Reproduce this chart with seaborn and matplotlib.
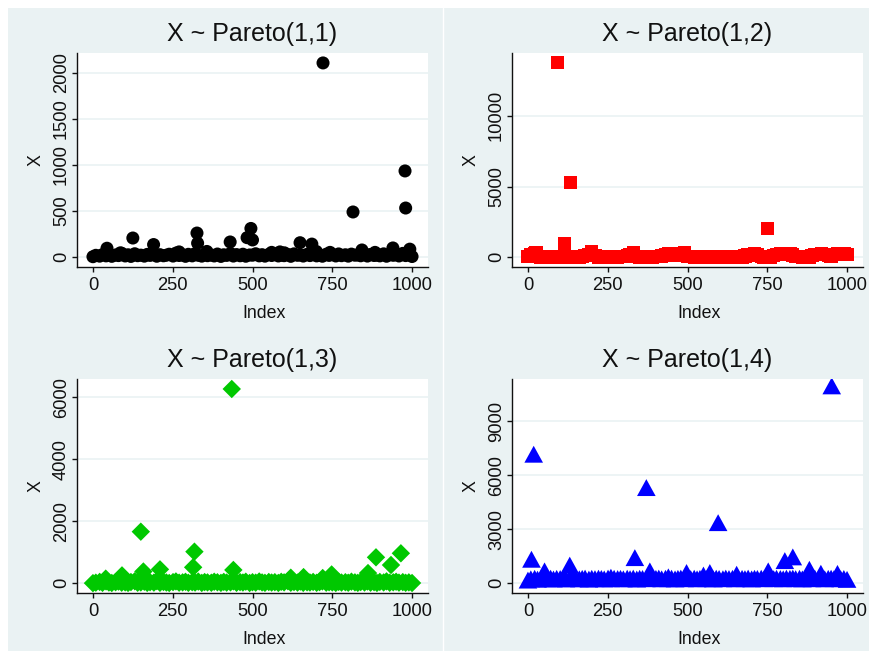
import pandas as pd
import seaborn as sns
import matplotlib.pyplot as plt
from matplotlib.patches import Rectangle
from matplotlib.lines import Line2D

# index positions of the dense band of small draws (shared by all panels)
band_index = [
    0, 9, 21, 30, 41, 50, 59, 71, 80, 90,
    101, 110, 119, 131, 140, 150, 161, 170, 179, 191,
    200, 210, 221, 230, 239, 251, 260, 270, 281, 290,
    299, 311, 320, 330, 341, 350, 359, 371, 380, 390,
    401, 410, 419, 431, 440, 450, 461, 470, 479, 491,
    500, 510, 521, 530, 539, 551, 560, 570, 581, 590,
    599, 611, 620, 630, 641, 650, 659, 671, 680, 690,
    701, 710, 719, 731, 740, 750, 761, 770, 779, 791,
    800, 810, 821, 830, 839, 851, 860, 870, 881, 890,
    899, 911, 920, 930, 941, 950, 959, 971, 980, 990,
    1000]

# Pareto(1,1)
p1_band = [
    3, 18, 9, 26, 12, 31, 7, 22, 15, 40,
    11, 24, 6, 35, 14, 20, 9, 28, 17, 33,
    8, 25, 13, 19, 30, 10, 42, 16, 23, 7,
    29, 12, 36, 18, 9, 27, 14, 21, 11, 32,
    6, 24, 17, 38, 10, 26, 13, 30, 8, 22,
    19, 35, 12, 25, 9, 28, 16, 31, 11, 20,
    14, 27, 7, 34, 18, 23, 10, 29, 15, 37,
    12, 21, 8, 30, 17, 26, 11, 33, 14, 24,
    9, 31, 19, 22, 13, 36, 10, 27, 16, 20,
    12, 34, 8, 25, 18, 30, 11, 39, 15, 28,
    5]
p1_out_index = [44, 86, 125, 190, 270, 326, 328, 357, 430, 483, 495, 500,
                560, 586, 600, 649, 686, 700, 721, 743, 815, 843, 884,
                940, 978, 980, 993]
p1_out_value = [95, 45, 206, 135, 55, 260, 150, 60, 163, 210, 310, 185,
                50, 55, 45, 155, 140, 60, 2109, 50, 489, 76, 50,
                98, 935, 532, 85]

# Pareto(1,2)
p2_band = [
    40, 180, 230, 60, 25, 50, 15, 35, 70, 20,
    45, 30, 60, 20, 40, 55, 25, 35, 120, 210,
    260, 150, 30, 50, 20, 40, 15, 60, 25, 45,
    35, 140, 210, 250, 80, 30, 50, 20, 45, 25,
    60, 35, 90, 180, 230, 160, 110, 210, 240, 190,
    60, 40, 25, 50, 30, 45, 20, 35, 55, 30,
    25, 40, 20, 50, 35, 15, 45, 30, 90, 170,
    200, 230, 160, 40, 25, 50, 30, 120, 200, 230,
    210, 190, 240, 170, 60, 40, 25, 50, 30, 120,
    180, 210, 240, 190, 140, 60, 220, 250, 200, 230,
    180]
p2_out_index = [25, 92, 115, 134, 200, 330, 450, 490, 751]
p2_out_value = [350, 13750, 990, 5270, 380, 300, 290, 300, 2020]

# Pareto(1,3)
p3_band = [
    5, 20, 45, 15, 60, 25, 10, 35, 55, 20,
    30, 12, 40, 65, 18, 28, 50, 14, 35, 22,
    70, 16, 42, 25, 10, 38, 60, 20, 30, 48,
    15, 36, 24, 55, 12, 40, 28, 18, 50, 33,
    14, 45, 22, 30, 62, 16, 38, 25, 52, 10,
    35, 20, 58, 28, 15, 42, 24, 36, 12, 48,
    30, 66, 18, 40, 22, 55, 14, 32, 26, 44,
    16, 38, 60, 20, 34, 28, 12, 46, 24, 35,
    18, 52, 30, 14, 40, 26, 58, 20, 36, 12,
    44, 28, 62, 18, 32, 50, 22, 38, 16, 30,
    10]
p3_out_index = [40, 91, 150, 158, 210, 314, 318, 435, 440, 620, 660, 720,
                748, 862, 887, 934, 965]
p3_out_value = [150, 255, 1665, 380, 450, 516, 1020, 6268, 430, 180, 200, 170,
                285, 330, 838, 590, 968]

# Pareto(1,4)
p4_band = [
    20, 90, 120, 70, 110, 130, 95, 125, 80, 115,
    105, 130, 85, 120, 100, 125, 90, 115, 130, 75,
    120, 100, 125, 110, 85, 130, 95, 120, 105, 115,
    90, 125, 100, 130, 80, 120, 110, 95, 125, 105,
    115, 130, 90, 120, 100, 125, 85, 115, 130, 95,
    120, 105, 125, 90, 115, 130, 100, 120, 85, 125,
    110, 95, 130, 105, 120, 90, 125, 115, 100, 130,
    85, 120, 110, 125, 95, 115, 130, 100, 120, 105,
    90, 125, 115, 130, 100, 120, 85, 125, 110, 95,
    130, 105, 120, 90, 115, 125, 100, 130, 95, 110,
    60]
p4_out_index = [11, 18, 52, 131, 260, 335, 371, 382, 440, 497, 550, 570,
                596, 654, 753, 805, 830, 882, 918, 952, 970]
p4_out_value = [1175, 7000, 530, 850, 180, 1265, 5150, 530, 200, 440, 300, 440,
                3205, 345, 530, 1100, 1305, 620, 400, 10790, 390]

x_ticks = [0, 250, 500, 750, 1000]

sns.set_theme(style='white')
plt.rcParams['font.family'] = ['Liberation Sans', 'DejaVu Sans']

BG = '#EAF2F3'
INK = '#111111'
W, H = 869, 651

fig = plt.figure(figsize=(W / 100, H / 100), dpi=100, facecolor='white')
fig.add_artist(Rectangle((8 / W, 0), 1 - 8 / W, 1 - 8 / H,
                         transform=fig.transFigure, facecolor=BG,
                         edgecolor='none', zorder=-10))
fig.add_artist(Line2D([442.5 / W, 442.5 / W], [0, 1 - 8 / H],
                      transform=fig.transFigure, color='white', lw=1.0, zorder=-9))

# triangle centred on its centroid, like Stata's
tri = [(0, 10.5), (-8.65, -5.2), (8.65, -5.2), (0, 10.5)]

panels = [
    ('X ~ Pareto(1,1)', p1_band, p1_out_index, p1_out_value, 'black', 'o', 88,
     (-109, 2217), [0, 500, 1000, 1500, 2000], (77, 53)),
    ('X ~ Pareto(1,2)', p2_band, p2_out_index, p2_out_value, '#FF0000', 's', 92,
     (-686, 14438), [0, 5000, 10000], (512, 53)),
    ('X ~ Pareto(1,3)', p3_band, p3_out_index, p3_out_value, '#00C800', 'D', 88,
     (-313, 6590), [0, 2000, 4000, 6000], (77, 379)),
    ('X ~ Pareto(1,4)', p4_band, p4_out_index, p4_out_value, '#0000FF', tri, 265,
     (-538, 11330), [0, 3000, 6000, 9000], (512, 379)),
]

aw, ah = 351, 214
for title, band, oi, ov, color, marker, size, ylim, yticks, (left, top) in panels:
    ax = fig.add_axes([left / W, (H - top - ah) / H, aw / W, ah / H])
    ax.set_facecolor('white')
    df = pd.DataFrame({'Index': band_index + oi, 'X': band + ov})
    sns.scatterplot(data=df, x='Index', y='X', ax=ax, color=color, marker=marker,
                    s=size, linewidth=0, edgecolor='none', zorder=3)
    ax.set_xlim(-50, 1050)
    ax.set_ylim(*ylim)
    ax.set_xticks(x_ticks)
    ax.set_yticks(yticks)
    ax.yaxis.grid(True, color=BG, lw=1.2)
    ax.xaxis.grid(False)
    ax.set_axisbelow(True)
    for side in ['top', 'right']:
        ax.spines[side].set_visible(False)
    for side in ['left', 'bottom']:
        ax.spines[side].set_color(INK)
        ax.spines[side].set_linewidth(1.0)
    ax.tick_params(axis='both', direction='out', length=3.6, width=1.0, color=INK,
                   labelsize=13.2, labelcolor=INK, left=True, bottom=True)
    ax.tick_params(axis='y', labelrotation=90, pad=1.5)
    ax.tick_params(axis='x', pad=3.5)
    for lab in ax.get_yticklabels():
        lab.set_va('center')
    ax.set_xlabel('Index', fontsize=12.8, color=INK)
    ax.set_ylabel('X', fontsize=12.8, color=INK)
    ax.xaxis.set_label_coords(0.533, -0.178)
    ax.yaxis.set_label_coords(-0.091, 0.5)
    ax.set_title(title, fontsize=18, color=INK, pad=8.3)

fig.savefig('out.png', dpi=100, facecolor='white')
